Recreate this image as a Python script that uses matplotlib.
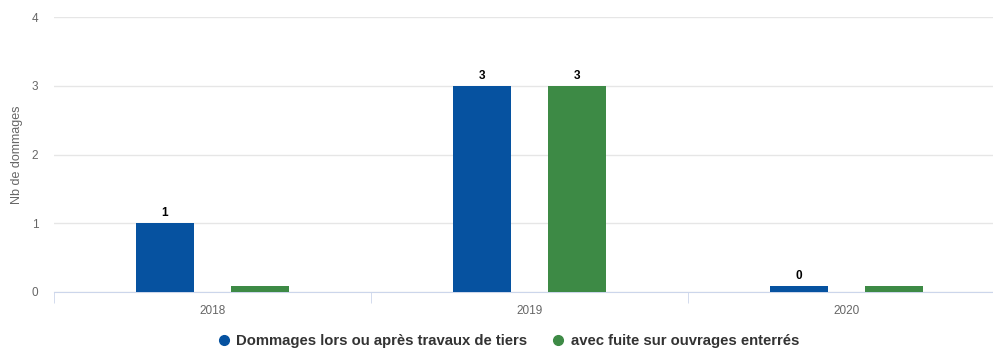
import matplotlib.pyplot as plt
import numpy as np
from matplotlib.lines import Line2D

# donnees
years = ["2018", "2019", "2020"]
tiers = [1, 3, 0]
fuite = [0, 3, 0]
tiers_name = "Dommages lors ou après travaux de tiers"
fuite_name = "avec fuite sur ouvrages enterrés"

blue = "#0652a0"
green = "#3d8a45"
min_len = 0.087   # hauteur mini pour que les barres a 0 restent visibles

plt.rcParams['font.family'] = ['Liberation Sans', 'DejaVu Sans']

fig = plt.figure(figsize=(9.93, 3.49), dpi=100)
# zone de trace (le bord droit depasse un peu de l'image)
ax = fig.add_axes([53.5 / 993, 1 - 292 / 349, 952 / 993, 275 / 349])

x = np.arange(len(years))
w = 0.183
off = 0.15

def bars(vals, pos, color, zero_label):
    h = [max(v, min_len) for v in vals]
    ax.bar(pos, h, w, color=color, zorder=3)
    for xi, v, hi in zip(pos, vals, h):
        if v > 0 or zero_label:
            ax.text(xi, hi + 0.06, str(v), ha='center', va='bottom',
                    fontsize=8.5, fontweight='bold', color='black')

bars(tiers, x - off, blue, True)
bars(fuite, x + off, green, False)

ax.set_xlim(-0.5, len(years) - 0.5)
ax.set_ylim(0, 4)
ax.set_yticks(range(5))
ax.yaxis.grid(True, color='#e6e6e6', linewidth=1)
ax.set_axisbelow(True)
for s in ['top', 'right', 'left']:
    ax.spines[s].set_visible(False)
ax.spines['bottom'].set_color('#ccd6eb')
ax.tick_params(axis='y', length=0, labelsize=8.5, labelcolor='#666666', pad=11)

ax.set_xticks(x)
ax.set_xticklabels(years)
ax.set_xticks(np.arange(len(years) + 1) - 0.5, minor=True)
ax.tick_params(axis='x', which='major', length=0, labelsize=8.5,
               labelcolor='#666666', pad=9)
ax.tick_params(axis='x', which='minor', length=8, color='#ccd6eb')

fig.text(17 / 993, 1 - 155 / 349, "Nb de dommages", rotation=90,
         ha='center', va='center', fontsize=9, color='#666666')

handles = [Line2D([], [], marker='o', linestyle='', color=blue, markersize=7),
           Line2D([], [], marker='o', linestyle='', color=green, markersize=7)]
fig.legend(handles, [tiers_name, fuite_name], loc='center', ncol=2,
           bbox_to_anchor=(508 / 993, 1 - 341 / 349), frameon=False,
           prop={'size': 10.7, 'weight': 'bold'}, labelcolor='#333333',
           handletextpad=0.4, columnspacing=1.6, handlelength=0.9)

fig.savefig("out.png")
